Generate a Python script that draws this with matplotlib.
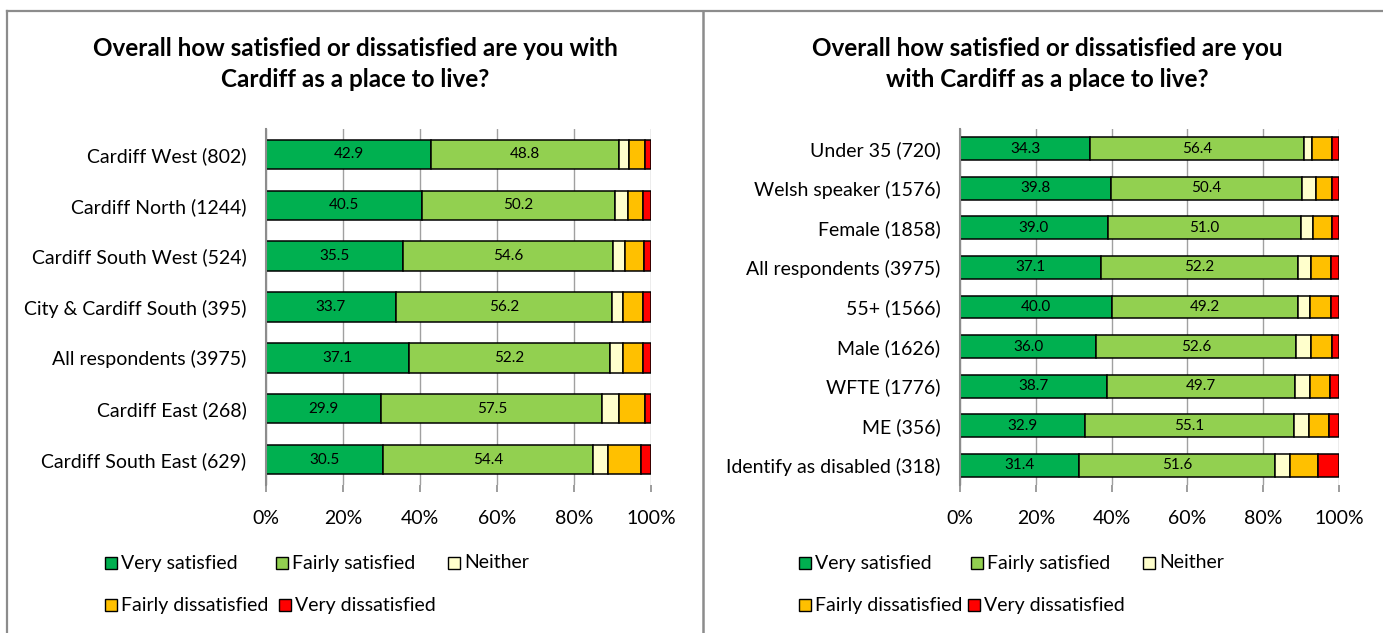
import matplotlib
matplotlib.use("Agg")
import matplotlib.pyplot as plt
from matplotlib.patches import Rectangle
from matplotlib.lines import Line2D
import numpy as np

plt.rcParams['font.family'] = ['Lato', 'DejaVu Sans']

series = ["Very satisfied", "Fairly satisfied", "Neither", "Fairly dissatisfied", "Very dissatisfied"]
colors = ["#00B050", "#92D050", "#FFFFCC", "#FFC000", "#FF0000"]

title_left = "Overall how satisfied or dissatisfied are you with\nCardiff as a place to live?"
title_right = "Overall how satisfied or dissatisfied are you\nwith Cardiff as a place to live?"

# Left chart (area)
left_cats = ["Cardiff West (802)", "Cardiff North (1244)", "Cardiff South West (524)",
             "City & Cardiff South (395)", "All respondents (3975)", "Cardiff East (268)",
             "Cardiff South East (629)"]
left_very_sat = [42.9, 40.5, 35.5, 33.7, 37.1, 29.9, 30.5]
left_fairly_sat = [48.8, 50.2, 54.6, 56.2, 52.2, 57.5, 54.4]
left_neither = [2.7, 3.2, 3.2, 2.7, 3.4, 4.4, 3.9]
left_fairly_dis = [4.0, 4.0, 4.9, 5.4, 5.2, 6.6, 8.5]
left_very_dis = [1.6, 2.1, 1.8, 2.0, 2.1, 1.6, 2.7]

# Right chart (groups)
right_cats = ["Under 35 (720)", "Welsh speaker (1576)", "Female (1858)",
              "All respondents (3975)", "55+ (1566)", "Male (1626)", "WFTE (1776)",
              "ME (356)", "Identify as disabled (318)"]
right_very_sat = [34.3, 39.8, 39.0, 37.1, 40.0, 36.0, 38.7, 32.9, 31.4]
right_fairly_sat = [56.4, 50.4, 51.0, 52.2, 49.2, 52.6, 49.7, 55.1, 51.6]
right_neither = [2.3, 3.6, 3.2, 3.4, 3.2, 4.1, 3.9, 4.0, 4.1]
right_fairly_dis = [5.2, 4.3, 4.9, 5.2, 5.5, 5.4, 5.2, 5.4, 7.4]
right_very_dis = [1.8, 1.8, 1.9, 2.1, 2.1, 1.9, 2.5, 2.6, 5.5]

xticks = [0, 20, 40, 60, 80, 100]
xticklabels = ["0%", "20%", "40%", "60%", "80%", "100%"]

W, H = 1383, 633
fig = plt.figure(figsize=(W / 100, H / 100), dpi=100)
GRAY = "#8c8c8c"
FS = 14


def px(x0, y0, x1, y1):
    return [x0 / W, 1 - y1 / H, (x1 - x0) / W, (y1 - y0) / H]


def draw(ax, cats, data):
    y = np.arange(len(cats))
    left = np.zeros(len(cats))
    for vals, col in zip(data, colors):
        vals = np.array(vals)
        ax.barh(y, vals, left=left, height=0.58, color=col, edgecolor="black",
                linewidth=1.1, zorder=3)
        left = left + vals
    # data labels for first two series
    left = np.zeros(len(cats))
    for vals in data[:2]:
        vals = np.array(vals)
        for yi, (l, v) in enumerate(zip(left, vals)):
            ax.text(l + v / 2, yi, f"{v:.1f}", ha="center", va="center",
                    fontsize=11, color="black", zorder=4)
        left = left + vals
    ax.set_xlim(0, 100)
    ax.set_ylim(len(cats) - 0.5, -0.5)
    ax.set_yticks(y)
    ax.set_yticklabels(cats, fontsize=FS)
    ax.set_xticks(xticks)
    ax.set_xticklabels(xticklabels, fontsize=FS)
    ax.tick_params(axis="y", length=0, pad=14)
    ax.tick_params(axis="x", length=5, color=GRAY, width=1.2, pad=13)
    for s in ["top", "right", "bottom"]:
        ax.spines[s].set_visible(False)
    ax.spines["left"].set_color(GRAY)
    ax.spines["left"].set_linewidth(1.5)
    ax.spines["left"].set_zorder(5)
    ax.xaxis.grid(True, color="#a0a0a0", linewidth=1.0, zorder=0)
    ax.set_axisbelow(True)


axL = fig.add_axes(px(266, 129, 651, 485))
draw(axL, left_cats, [left_very_sat, left_fairly_sat, left_neither, left_fairly_dis, left_very_dis])
axR = fig.add_axes(px(960, 129, 1339, 485))
draw(axR, right_cats, [right_very_sat, right_fairly_sat, right_neither, right_fairly_dis, right_very_dis])

fig.text(355 / W, 1 - 64 / H, title_left, ha="center", va="center", fontsize=17.5,
         fontweight="bold", linespacing=1.4)
fig.text(1047 / W, 1 - 64 / H, title_right, ha="center", va="center", fontsize=17.5,
         fontweight="bold", linespacing=1.4)

# panel borders
fig.add_artist(Line2D([7 / W, 1.0], [1 - 10.5 / H] * 2, color=GRAY, linewidth=1.6))
fig.add_artist(Line2D([7 / W] * 2, [0, 1 - 10.5 / H], color=GRAY, linewidth=1.6))
fig.add_artist(Line2D([703.5 / W] * 2, [0, 1 - 10.5 / H], color=GRAY, linewidth=1.8))


def legend(positions):
    for (x, y), lab, col in zip(positions, series, colors):
        fig.add_artist(Rectangle((x / W, 1 - (y + 6) / H), 12 / W, 12 / H,
                                 facecolor=col, edgecolor="black", linewidth=1.0,
                                 transform=fig.transFigure))
        fig.text((x + 16) / W, 1 - y / H, lab, ha="left", va="center", fontsize=FS)


legend([(105, 563), (276, 563), (448, 563), (105, 605), (279, 605)])
legend([(799, 563), (971, 563), (1143, 563), (799, 605), (968, 605)])

fig.savefig("out.png", dpi=100)
